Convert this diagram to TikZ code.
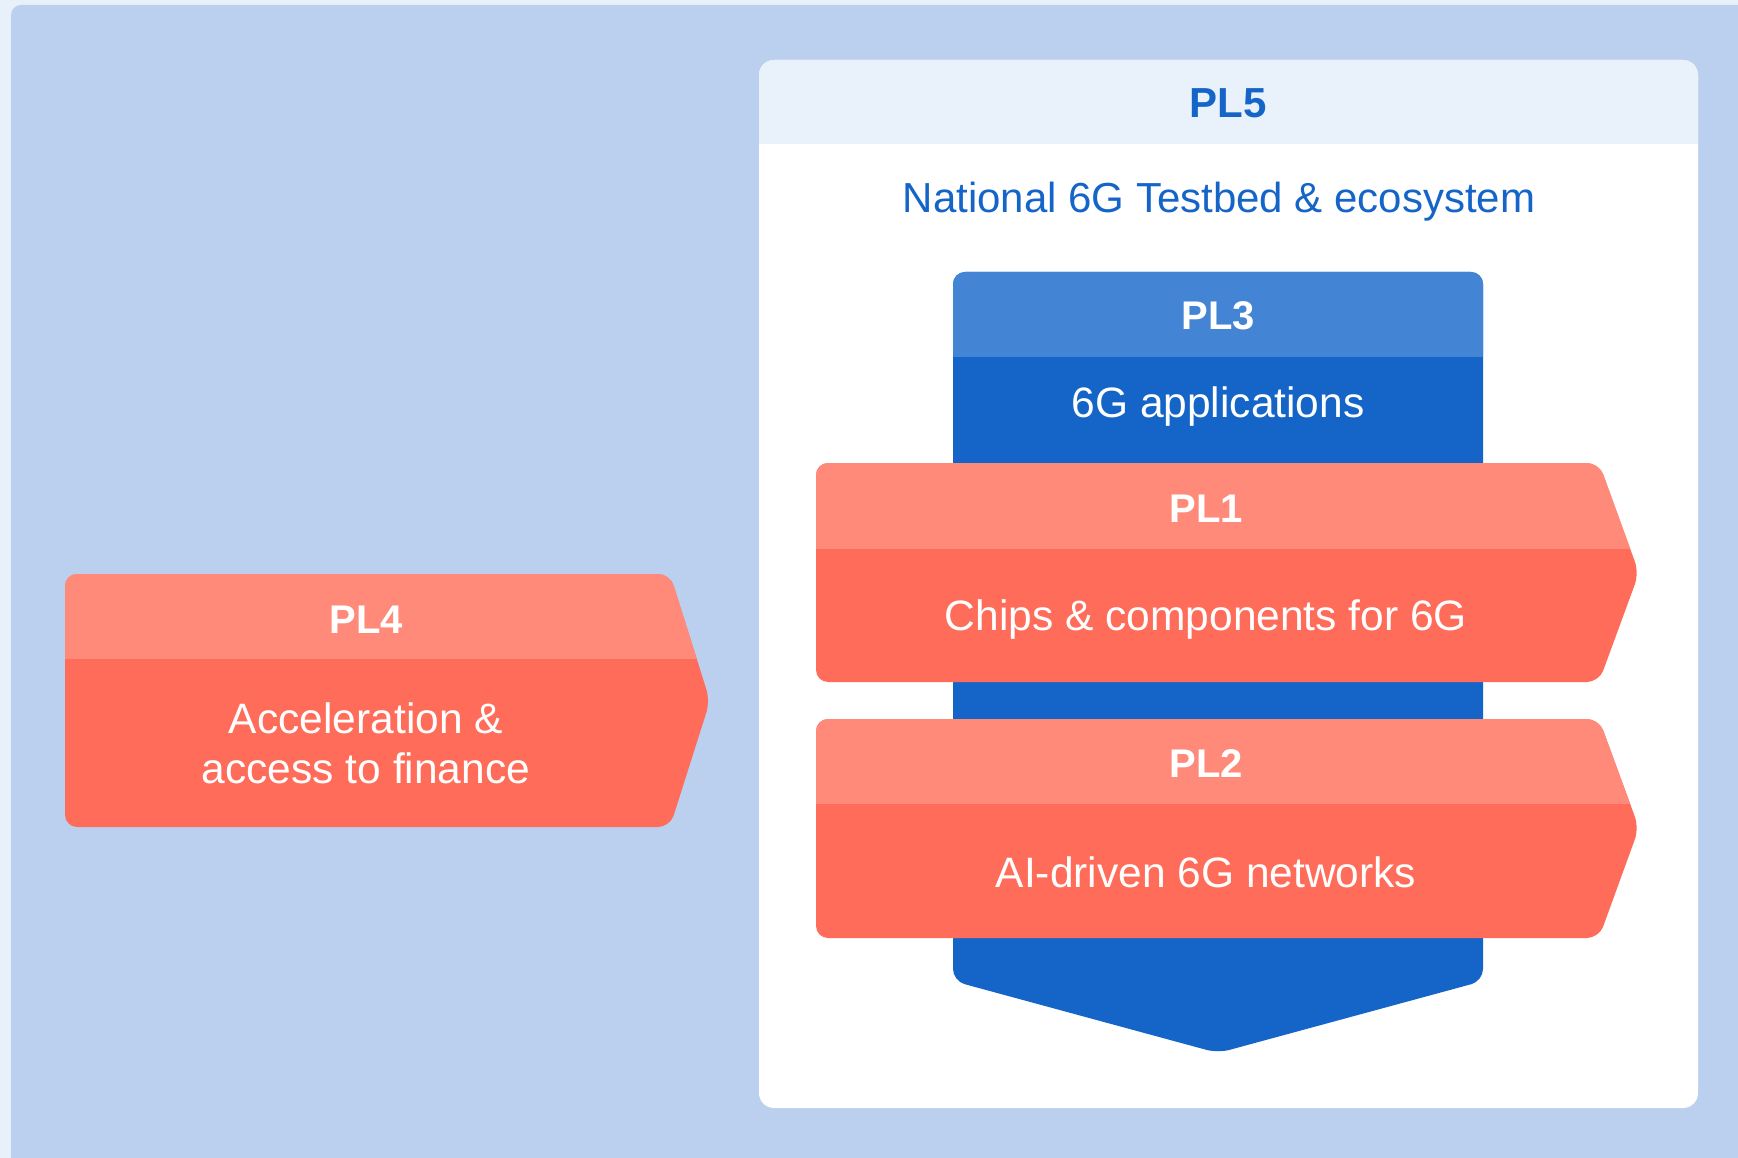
\documentclass[tikz,border=0pt]{standalone}
\usepackage{fontspec}
\setmainfont{Liberation Sans}
\usetikzlibrary{positioning}

\definecolor{pagebg}{HTML}{E8F0FA}
\definecolor{panelbg}{HTML}{BBD0EE}
\definecolor{headbg}{HTML}{E9F1FB}
\definecolor{deepblue}{HTML}{1565C8}
\definecolor{midblue}{HTML}{4484D4}
\definecolor{salmon}{HTML}{FF8A7A}
\definecolor{coral}{HTML}{FF6D5A}

\begin{document}
\begin{tikzpicture}[x=1pt, y=-1pt,
  pltitle/.style={anchor=base, text=white, font=\fontsize{40}{48}\selectfont\bfseries},
  pltext/.style={anchor=base, text=white, align=center, font=\fontsize{42.5}{50}\selectfont}]
  % Canvas and panel
  \fill[pagebg] (0,0) rectangle (1738,1158);
  \useasboundingbox (0,0) rectangle (1738,1158);
  \fill[panelbg, rounded corners=10] (11,5) rectangle (1770,1190);

  % PL5 frame with light header band
  \fill[white, rounded corners=15] (759,60) rectangle (1698,1108);
  \begin{scope}
    \clip (740,40) rectangle (1720,144);
    \fill[headbg, rounded corners=15] (759,60) rectangle (1698,1108);
  \end{scope}
  \node[anchor=base, text=deepblue, font=\fontsize{42}{50}\selectfont\bfseries] (pl5) at (1228,118) {PL5};
  \node[anchor=base, text=deepblue, font=\fontsize{42}{50}\selectfont] (pl5desc) at (1219,213) {National 6G Testbed \& ecosystem};

  % PL3 column pointing down
  \fill[deepblue, rounded corners=12] (953,272) -- (1483,272) -- (1483,981) -- (1218,1053) -- (953,981) -- cycle;
  \begin{scope}
    \clip (940,260) rectangle (1500,357);
    \fill[midblue, rounded corners=12] (953,272) -- (1483,272) -- (1483,981) -- (1218,1053) -- (953,981) -- cycle;
  \end{scope}
  \node[pltitle] (pl3) at (1218,330) {PL3};
  \node[pltext] (pl3desc) at (1218,417) {6G applications};

  % PL1 arrow
  \fill[coral, rounded corners=12] (816,463) -- (1599,463) -- (1639,573) -- (1599,682) -- (816,682) -- cycle;
  \begin{scope}
    \clip (800,450) rectangle (1660,548);
    \fill[salmon, rounded corners=12] (816,463) -- (1599,463) -- (1639,573) -- (1599,682) -- (816,682) -- cycle;
  \end{scope}
  \node[pltitle] (pl1) at (1206,522) {PL1};
  \node[pltext] (pl1desc) at (1206,630) {Chips \& components for 6G};

  % PL2 arrow
  \fill[coral, rounded corners=12] (816,719) -- (1599,719) -- (1639,828) -- (1599,938) -- (816,938) -- cycle;
  \begin{scope}
    \clip (800,705) rectangle (1660,803);
    \fill[salmon, rounded corners=12] (816,719) -- (1599,719) -- (1639,828) -- (1599,938) -- (816,938) -- cycle;
  \end{scope}
  \node[pltitle] (pl2) at (1206,777) {PL2};
  \node[pltext] (pl2desc) at (1206,887) {AI-driven 6G networks};

  % PL4 arrow on the left
  \fill[coral, rounded corners=12] (65,574) -- (670,574) -- (710,701) -- (670,827) -- (65,827) -- cycle;
  \begin{scope}
    \clip (50,560) rectangle (730,658);
    \fill[salmon, rounded corners=12] (65,574) -- (670,574) -- (710,701) -- (670,827) -- (65,827) -- cycle;
  \end{scope}
  \node[pltitle] (pl4) at (366,633) {PL4};
  \node[pltext] (pl4desc) at (366,783) {Acceleration \&\\access to finance};
\end{tikzpicture}
\end{document}
